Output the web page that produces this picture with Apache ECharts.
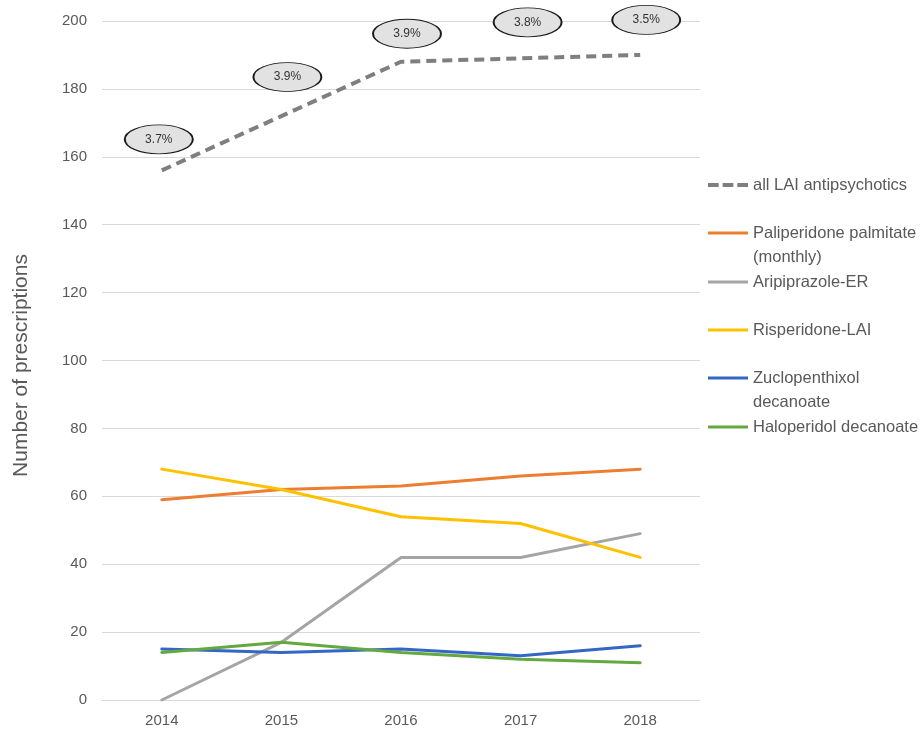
<!DOCTYPE html>
<html>
<head>
<meta charset="utf-8">
<title>LAI antipsychotic prescriptions</title>
<script src="https://cdn.jsdelivr.net/npm/echarts@6/dist/echarts.min.js"></script>
<style>
  html, body { margin: 0; padding: 0; background: #fff; }
  #chart { width: 922px; height: 731px; }
</style>
</head>
<body>
<div id="chart"></div>
<script>
var years = ['2014', '2015', '2016', '2017', '2018'];
var yTicks = [0, 20, 40, 60, 80, 100, 120, 140, 160, 180, 200];

var allLAI = [156, 172, 188, 189, 190];
var sharePct = ['3.7%', '3.9%', '3.9%', '3.8%', '3.5%'];
var paliperidone = [59, 62, 63, 66, 68];
var aripiprazole = [0, 17, 42, 42, 49];
var risperidone = [68, 62, 54, 52, 42];
var zuclopenthixol = [15, 14, 15, 13, 16];
var haloperidol = [14, 17, 14, 12, 11];

// where the ellipse bubbles sit relative to their point
var bubbleOffsets = [[-3, -31], [6, -39], [6, -28], [7, -36], [6, -35]];

var FONT = 'Liberation Sans';
var TXT = '#595959';

window.onload = function () {
    var chart = echarts.init(document.getElementById('chart'));

    function line(name, data, color) {
        return {
            name: name,
            type: 'line',
            data: data,
            symbol: 'none',
            lineStyle: { color: color, width: 3, cap: 'round' },
            itemStyle: { color: color }
        };
    }

    var markData = allLAI.map(function (v, i) {
        return {
            coord: [years[i], v],
            value: sharePct[i],
            symbolOffset: bubbleOffsets[i]
        };
    });

    var dashed = {
        name: 'all LAI antipsychotics',
        type: 'line',
        data: allLAI,
        symbol: 'none',
        lineStyle: { color: '#7f7f7f', width: 4, type: [10, 6] },
        itemStyle: { color: '#7f7f7f' },
        markPoint: {
            symbol: 'circle',
            symbolSize: [68, 29],
            itemStyle: { color: '#e2e2e2', borderColor: '#1a1a1a', borderWidth: 1.3 },
            label: {
                show: true,
                position: 'inside',
                color: '#333',
                fontFamily: FONT,
                fontSize: 12,
                formatter: function (p) { return sharePct[p.dataIndex]; }
            },
            data: markData
        }
    };

    var names = [
        'all LAI antipsychotics',
        'Paliperidone palmitate\n(monthly)',
        'Aripiprazole-ER',
        'Risperidone-LAI',
        'Zuclopenthixol\ndecanoate',
        'Haloperidol decanoate'
    ];
    var legendIconY = [185, 233, 282, 330, 378, 427];
    var dashIcon = 'path://M0,0h11v4h-11z M15,0h11v4h-11z M30,0h11v4h-11z';

    var legends = names.map(function (n, i) {
        var twoLine = n.indexOf('\n') >= 0;
        return {
            orient: 'vertical',
            left: 708,
            top: legendIconY[i] - (twoLine ? 36 : 12),
            padding: 0,
            itemWidth: 40,
            itemHeight: i === 0 ? 4 : 3,
            selectedMode: false,
            icon: i === 0 ? dashIcon : 'rect',
            formatter: function (name) {
                // blank first line keeps the icon level with the first text line
                return name.indexOf('\n') >= 0 ? '\n' + name : name;
            },
            textStyle: {
                color: TXT,
                fontFamily: FONT,
                fontSize: 16.5,
                lineHeight: 24
            },
            data: [n]
        };
    });

    var option = {
        backgroundColor: '#fff',
        animation: false,
        textStyle: { fontFamily: FONT },
        legend: legends,
        grid: { left: 102, right: 222, top: 21, bottom: 31, containLabel: false },
        xAxis: {
            type: 'category',
            data: years,
            boundaryGap: true,
            axisLine: { lineStyle: { color: '#d9d9d9', width: 1 } },
            axisTick: { show: false },
            axisLabel: { color: TXT, fontSize: 15, fontFamily: FONT, margin: 13 }
        },
        yAxis: {
            type: 'value',
            min: yTicks[0],
            max: yTicks[yTicks.length - 1],
            interval: yTicks[1] - yTicks[0],
            name: 'Number of prescriptions',
            nameLocation: 'middle',
            nameGap: 70,
            nameTextStyle: { color: TXT, fontSize: 21, fontFamily: FONT, padding: [0, 10, 0, 0] },
            axisLine: { show: false },
            axisTick: { show: false },
            axisLabel: { color: TXT, fontSize: 15, fontFamily: FONT, margin: 15 },
            splitLine: { lineStyle: { color: '#d9d9d9', width: 1 } }
        },
        series: [
            dashed,
            line(names[1], paliperidone, '#ed7d31'),
            line(names[2], aripiprazole, '#a5a5a5'),
            line(names[3], risperidone, '#ffc000'),
            line(names[4], zuclopenthixol, '#3466c6'),
            line(names[5], haloperidol, '#64a83f')
        ]
    };

    chart.setOption(option);
};
</script>
</body>
</html>
